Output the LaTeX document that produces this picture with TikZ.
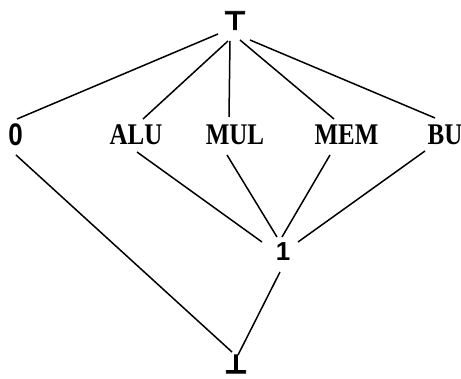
\documentclass[tikz,border=0pt]{standalone}
\usepackage{fontspec}
\usepackage{graphicx}
\setmainfont{Liberation Serif}
\newfontfamily\latsans{Liberation Sans}
\newfontfamily\symsans[FakeBold=3]{DejaVu Sans Bold}
\usetikzlibrary{positioning}
% serif unit names are set a little taller than wide
\newcommand{\tallname}[1]{\scalebox{1}[1.2]{#1}}

\begin{document}
\begin{tikzpicture}[x=1pt,y=-1pt,line width=1.5pt,
  unit/.style={font=\fontsize{25}{28}\selectfont\bfseries,inner sep=0pt},
  elem/.style={font=\fontsize{26}{30}\selectfont\latsans\bfseries,inner sep=0pt},
  bound/.style={font=\fontsize{26}{30}\selectfont\symsans,inner sep=0pt}]
\useasboundingbox (0,0) rectangle (461,379);
% lattice elements
\node[bound](top) at (235,20.5){⊤};
\node[elem](zero) at (15.5,135){\tallname{0}};
\node[unit](alu) at (136,135){\tallname{ALU}};
\node[unit](mul) at (235,135){\tallname{MUL}};
\node[unit](mem) at (346.5,135){\tallname{MEM}};
\node[unit](bu) at (445,135){\tallname{BU}};
\node[elem](one) at (283,252){1};
\node[bound](bot) at (236,364){⊥};
% top covers the bottom row
\draw ([shift={(-17,13.5)}]top.center)--([shift={(1.5,-16)}]zero.center);
\draw ([shift={(-7,20.5)}]top.center)--([shift={(7,-16)}]alu.center);
\draw ([shift={(-5,20.5)}]top.center)--([shift={(-6,-18)}]mul.center);
\draw ([shift={(5,19.5)}]top.center)--([shift={(-12.5,-16)}]mem.center);
\draw ([shift={(15,19.5)}]top.center)--([shift={(-10,-17)}]bu.center);
% units meet in 1
\draw ([shift={(1,17)}]alu.center)--([shift={(-21,-10)}]one.center);
\draw ([shift={(-8,20)}]mul.center)--([shift={(-6,-15)}]one.center);
\draw ([shift={(-16.5,20)}]mem.center)--([shift={(-1,-15)}]one.center);
\draw ([shift={(-20,16)}]bu.center)--([shift={(15,-10)}]one.center);
% down to bottom
\draw ([shift={(0.5,20)}]zero.center)--([shift={(-4,-12)}]bot.center);
\draw ([shift={(-3,20)}]one.center)--([shift={(2,-9)}]bot.center);
\end{tikzpicture}
\end{document}
